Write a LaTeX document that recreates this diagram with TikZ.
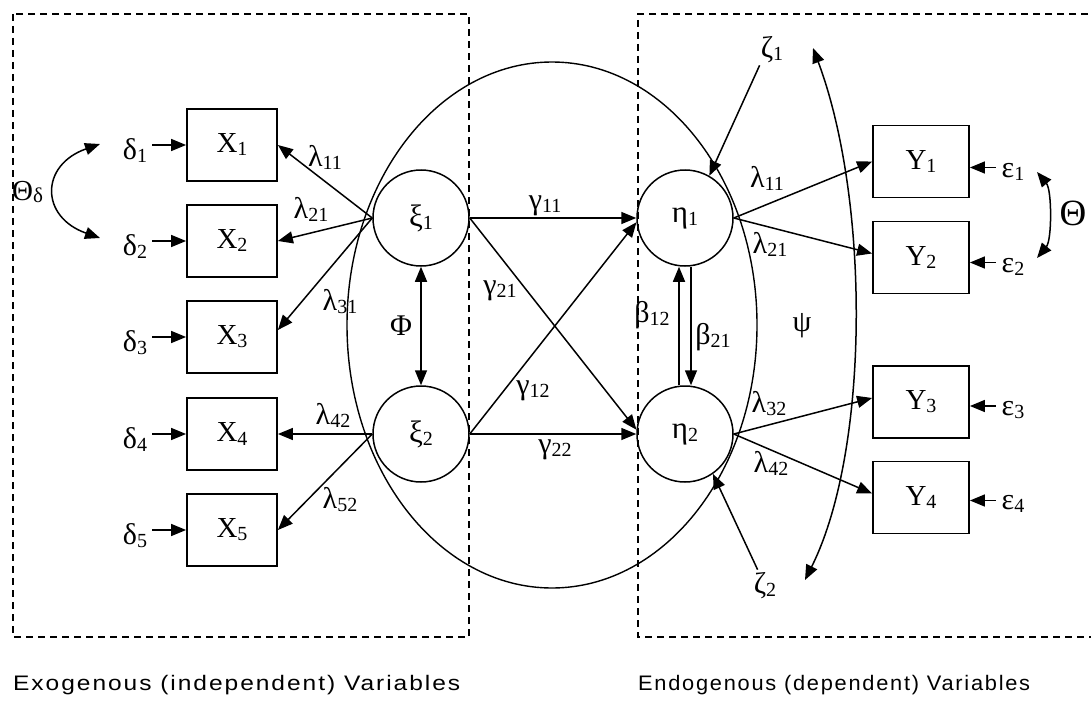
\documentclass[tikz,border=0pt]{standalone}
\usepackage{fontspec}
\setmainfont{Liberation Serif}
\newfontfamily\capsans{Liberation Sans}[LetterSpace=8]
\usetikzlibrary{arrows.meta,calc}
\newcommand{\ssb}[2]{#1\raisebox{-3pt}{\fontsize{20}{20}\selectfont #2}}
\begin{document}
\begin{tikzpicture}[x=1pt,y=-1pt,
  mvar/.style={draw, line width=1.8pt, minimum width=90pt, minimum height=72pt, inner sep=0pt, font=\fontsize{29}{29}\selectfont},
  yvar/.style={mvar, minimum width=96pt},
  lvar/.style={circle, draw, line width=1.5pt, minimum size=96pt, inner sep=0pt, font=\fontsize{31}{31}\selectfont},
  glab/.style={inner sep=0pt, font=\fontsize{30}{30}\selectfont},
  arr/.style={-{Triangle[length=15pt,width=12pt]}, line width=1.5pt},
  darr/.style={{Triangle[length=15pt,width=12pt]}-{Triangle[length=15pt,width=12pt]}, line width=1.5pt},
  dashbox/.style={dash pattern=on 7pt off 5pt, line width=1.4pt},
  caption/.style={anchor=base west, inner sep=0pt}]
\useasboundingbox (0,0) rectangle (1091,706);
% dashed regions
\draw[dashbox] (13,14) rectangle (469,637);
\draw[dashbox] (1100,14) -- (638,14) -- (638,637) -- (1100,637);
% big ellipse
\draw[line width=1.4pt] (552,325) ellipse [x radius=205, y radius=263];
% observed X
\node[mvar] (X1) at (232,145) {\ssb{X}{1}};
\node[mvar] (X2) at (232,241) {\ssb{X}{2}};
\node[mvar] (X3) at (232,337) {\ssb{X}{3}};
\node[mvar] (X4) at (232,434) {\ssb{X}{4}};
\node[mvar] (X5) at (232,530) {\ssb{X}{5}};
% delta
\node[glab] (d1) at (135,151) {\ssb{δ}{1}};
\node[glab] (d2) at (135,247) {\ssb{δ}{2}};
\node[glab] (d3) at (135,343) {\ssb{δ}{3}};
\node[glab] (d4) at (135,440) {\ssb{δ}{4}};
\node[glab] (d5) at (135,536) {\ssb{δ}{5}};
\foreach \i in {1,...,5}{
  \draw[arr] ([xshift=5pt]d\i.east |- X\i.west) -- (X\i.west);
}
\node[glab, anchor=west, font=\fontsize{29}{29}\selectfont] (thd) at (12,192) {Θ\raisebox{-2pt}{\fontsize{21}{21}\selectfont δ}};
\coordinate (tdA) at (100,144);
\coordinate (tdB) at (100,238);
\draw[darr] (tdA) .. controls (40,165) and (40,217) .. (tdB);
% latent xi
\node[lvar] (xi1) at (421,218) {\ssb{ξ}{1}};
\node[lvar] (xi2) at (421,434) {\ssb{ξ}{2}};
\coordinate (x3t) at ($(X3.east)+(0,-7)$);
\draw[arr] (xi1.west) -- (X1.east);
\draw[arr] (xi1.west) -- (X2.east);
\draw[arr] (xi1.west) -- (x3t);
\draw[arr] (xi2.west) -- (X4.east);
\draw[arr] (xi2.west) -- (X5.east);
\node[glab] (l11) at (325,157) {\ssb{λ}{11}};
\node[glab] (l21) at (311,209) {\ssb{λ}{21}};
\node[glab] (l31) at (340,302) {\ssb{λ}{31}};
\node[glab] (l42) at (333,415) {\ssb{λ}{42}};
\node[glab] (l52) at (340,500) {\ssb{λ}{52}};
\draw[darr] (xi1.south) -- (xi2.north);
\node[glab] (phi) at (401,326) {Φ};
% latent eta
\node[lvar] (eta1) at (685,218) {\ssb{η}{1}};
\node[lvar] (eta2) at (685,434) {\ssb{η}{2}};
\draw[arr] (xi1.east) -- (eta1.west);
\draw[arr] (xi1.east) -- (eta2.175);
\draw[arr] (xi2.east) -- (eta1.185);
\draw[arr] (xi2.east) -- (eta2.west);
\node[glab] (g11) at (545,206) {\ssb{γ}{11}};
\node[glab] (g21) at (500,291) {\ssb{γ}{21}};
\node[glab] (g12) at (533,391) {\ssb{γ}{12}};
\node[glab] (g22) at (555,450) {\ssb{γ}{22}};
\draw[arr] ([xshift=-6pt]eta2.north) -- ([xshift=-6pt]eta1.south);
\draw[arr] ([xshift=6pt]eta1.south) -- ([xshift=6pt]eta2.north);
\node[glab] (b12) at (652,315) {\ssb{β}{12}};
\node[glab] (b21) at (713,337) {\ssb{β}{21}};
% zeta
\node[glab] (z1) at (772,50) {\ssb{ζ}{1}};
\node[glab] (z2) at (765,586) {\ssb{ζ}{2}};
\draw[arr] ([shift={(-1,2)}]z1.south west) -- (eta1.60);
\draw[arr] ([shift={(4,-3)}]z2.north west) -- (eta2.-55);
\coordinate (psA) at (813,48);
\coordinate (psB) at (805,580);
\draw[darr] (psA) .. controls (870,200) and (870,450) .. (psB);
\node[glab] (psi) at (802,326) {ψ};
% observed Y
\node[yvar] (Y1) at (921,161.5) {\ssb{Y}{1}};
\node[yvar] (Y2) at (921,257.5) {\ssb{Y}{2}};
\node[yvar] (Y3) at (921,402) {\ssb{Y}{3}};
\node[yvar] (Y4) at (921,497.5) {\ssb{Y}{4}};
\coordinate (y2t) at ($(Y2.west)+(0,-4)$);
\coordinate (y3t) at ($(Y3.west)+(0,-4)$);
\coordinate (y4t) at ($(Y4.west)+(0,-4)$);
\draw[arr] (eta1.east) -- (Y1.west);
\draw[arr] (eta1.east) -- (y2t);
\draw[arr] (eta2.east) -- (y3t);
\draw[arr] (eta2.east) -- (y4t);
\node[glab] (m11) at (767,178) {\ssb{λ}{11}};
\node[glab] (m21) at (770,244) {\ssb{λ}{21}};
\node[glab] (m32) at (769,404) {\ssb{λ}{32}};
\node[glab] (m42) at (771,463) {\ssb{λ}{42}};
% epsilon
\node[glab] (e1) at (1013,172) {\ssb{ε}{1}};
\node[glab] (e2) at (1013,267) {\ssb{ε}{2}};
\node[glab] (e3) at (1013,410) {\ssb{ε}{3}};
\node[glab] (e4) at (1013,504) {\ssb{ε}{4}};
\coordinate (e1t) at ($(Y1.east)+(0,6)$);
\coordinate (e2t) at ($(Y2.east)+(0,5)$);
\coordinate (e3t) at ($(Y3.east)+(0,4)$);
\coordinate (e4t) at ($(Y4.east)+(0,3)$);
\foreach \i in {1,...,4}{
  \draw[arr] ([xshift=-6pt]e\i.west |- e\i t) -- (e\i t);
}
\coordinate (thA) at (1037,172);
\coordinate (thB) at (1037,258);
\draw[darr] (thA) .. controls (1052,190) and (1052,240) .. (thB);
\node[glab, font=\fontsize{37}{37}\selectfont] (th) at (1073,213) {Θ};
% captions
\node[caption] (exo) at (13,690) {\resizebox{447pt}{\height}{\capsans\fontsize{21}{22}\selectfont Exogenous (independent) Variables}};
\node[caption] (endo) at (638,690) {\resizebox{392pt}{\height}{\capsans\fontsize{21}{22}\selectfont Endogenous (dependent) Variables}};
\end{tikzpicture}
\end{document}
